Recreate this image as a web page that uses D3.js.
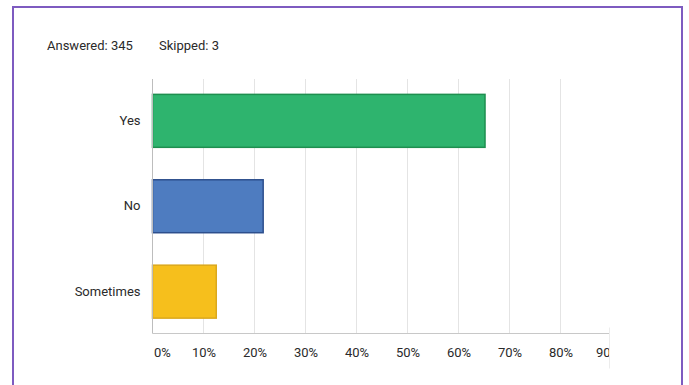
<!DOCTYPE html>
<html>
<head>
<meta charset="utf-8">
<script src="https://cdn.jsdelivr.net/npm/d3@7"></script>
<style>
  body { margin: 0; background: #fff; }
  svg { display: block; font-family: Roboto, "Open Sans", sans-serif; }
</style>
</head>
<body>
<div id="chart"></div>
<script>
// Survey answers (percent of respondents)
const categories = ["Yes", "No", "Sometimes"];
const percents = [65.2, 21.7, 12.5];
const barColors = ["#2eb46e", "#4e7cc0", "#f6bf1c"];
const barStrokes = ["#1e8f4f", "#2d4f8d", "#dba81c"];
const tickValues = [0, 10, 20, 30, 40, 50, 60, 70, 80, 90];
const summary = ["Answered: 345", "Skipped: 3"];

const width = 689, height = 385;
const plot = { left: 152.5, right: 662.5, top: 79, bottom: 333.5, clip: 610 };
const textColor = "#2a2a2a";

const svg = d3.select("#chart").append("svg")
    .attr("width", width)
    .attr("height", height);

// purple frame, open at the bottom
svg.append("path")
    .attr("d", `M13,${height + 5} V7 H682 V${height + 5}`)
    .attr("fill", "none")
    .attr("stroke", "#7e5bc0")
    .attr("stroke-width", 2);

// Answered / Skipped line
svg.append("text").attr("x", 47).attr("y", 50)
    .style("font-size", "13px").attr("fill", textColor).text(summary[0]);
svg.append("text").attr("x", 159).attr("y", 50)
    .style("font-size", "13px").attr("fill", textColor).text(summary[1]);

const x = d3.scaleLinear().domain([0, 100]).range([plot.left, plot.right]);
const y = d3.scaleBand().domain(categories)
    .range([plot.top, plot.bottom])
    .paddingInner(0.38)
    .paddingOuter(0.18);

// the original picture is cropped just after the 90% line
svg.append("clipPath").attr("id", "crop")
    .append("rect")
    .attr("x", 0).attr("y", 0)
    .attr("width", plot.clip).attr("height", height);

const g = svg.append("g").attr("clip-path", "url(#crop)");

// vertical gridlines
g.selectAll(".grid")
    .data(tickValues.slice(1))
    .enter().append("line")
    .attr("class", "grid")
    .attr("x1", d => x(d)).attr("x2", d => x(d))
    .attr("y1", plot.top).attr("y2", plot.bottom)
    .attr("stroke", "#e4e4e4")
    .attr("stroke-width", 1);

// bars
g.selectAll(".bar")
    .data(percents)
    .enter().append("rect")
    .attr("class", "bar")
    .attr("x", x(0))
    .attr("y", (d, i) => y(categories[i]))
    .attr("width", d => x(d) - x(0))
    .attr("height", y.bandwidth())
    .attr("fill", (d, i) => barColors[i])
    .attr("stroke", (d, i) => barStrokes[i])
    .attr("stroke-width", 1.5);

// left axis line and baseline
g.append("line")
    .attr("x1", plot.left).attr("x2", plot.left)
    .attr("y1", plot.top).attr("y2", plot.bottom)
    .attr("stroke", "#bdbdbd");
g.append("line")
    .attr("x1", plot.left).attr("x2", plot.right)
    .attr("y1", plot.bottom).attr("y2", plot.bottom)
    .attr("stroke", "#c8c8c8");

// x tick labels
const xAxis = d3.axisBottom(x)
    .tickValues(tickValues)
    .tickFormat(d => d + "%")
    .tickSize(0)
    .tickPadding(14);
const ax = g.append("g")
    .attr("transform", `translate(0,${plot.bottom})`)
    .call(xAxis);
ax.select(".domain").remove();
ax.selectAll("text")
    .style("font-size", "13px")
    .style("font-family", "Roboto, 'Open Sans', sans-serif")
    .attr("fill", textColor)
    .attr("text-anchor", (d, i) => i === 0 ? "start" : "middle")
    .attr("dx", (d, i) => i === 0 ? 1 : (i === tickValues.length - 1 ? -4 : 0));

// faint edge where the picture was cropped
svg.append("line")
    .attr("x1", plot.clip - 0.5).attr("x2", plot.clip - 0.5)
    .attr("y1", plot.bottom - 6).attr("y2", plot.bottom + 35)
    .attr("stroke", "#ececec");

// category labels
const yAxis = d3.axisLeft(y).tickSize(0).tickPadding(12);
const ay = svg.append("g")
    .attr("transform", `translate(${plot.left},0)`)
    .call(yAxis);
ay.select(".domain").remove();
ay.selectAll("text")
    .style("font-size", "13px")
    .style("font-family", "Roboto, 'Open Sans', sans-serif")
    .attr("fill", textColor);
</script>
</body>
</html>
